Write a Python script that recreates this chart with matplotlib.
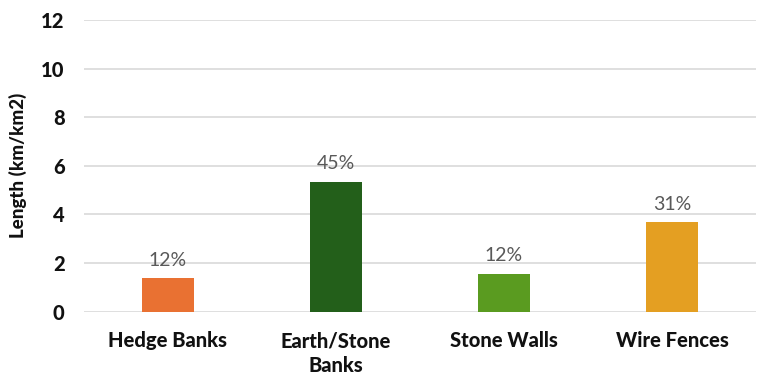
import matplotlib

matplotlib.use("Agg")
import matplotlib.pyplot as plt

categories = ["Hedge Banks", "Earth/Stone\nBanks", "Stone Walls", "Wire Fences"]
lengths = [1.37, 5.33, 1.57, 3.67]
shares = ["12%", "45%", "12%", "31%"]
colors = ["#E97132", "#235F1A", "#5A9B20", "#E49F22"]
yticks = [0, 2, 4, 6, 8, 10, 12]

plt.rcParams["font.family"] = ["Lato", "DejaVu Sans"]

fig = plt.figure(figsize=(7.59, 3.74), dpi=100)
ax = fig.add_axes([84 / 759, 1 - 311.7 / 374, 672 / 759, 291.7 / 374])

x = range(len(categories))
bars = ax.bar(x, lengths, width=0.315, color=colors, zorder=3)
for bar, txt in zip(bars, shares):
    ax.text(bar.get_x() + bar.get_width() / 2, bar.get_height() + 0.4, txt,
            ha="center", va="bottom", fontsize=14, color="#595959")

ax.set_xlim(-0.5, len(categories) - 0.5)
ax.set_ylim(0, 12)
ax.set_yticks(yticks)
ax.set_xticks(list(x))
ax.set_xticklabels(categories, fontsize=14.5, fontweight="black", color="#111111",
                   linespacing=1.35)
ax.tick_params(axis="y", labelsize=14.5, length=0, pad=14)
ax.tick_params(axis="x", length=0, pad=14)
for lbl in ax.get_yticklabels():
    lbl.set_fontweight("black")
    lbl.set_color("#111111")
ax.yaxis.grid(True, color="#D9D9D9", linewidth=1.2, zorder=0)
for s in ax.spines.values():
    s.set_visible(False)
ax.set_ylabel("Length (km/km2)", fontsize=13.5, fontweight="black", color="#111111",
              labelpad=10)

fig.savefig("out.png", dpi=100)
